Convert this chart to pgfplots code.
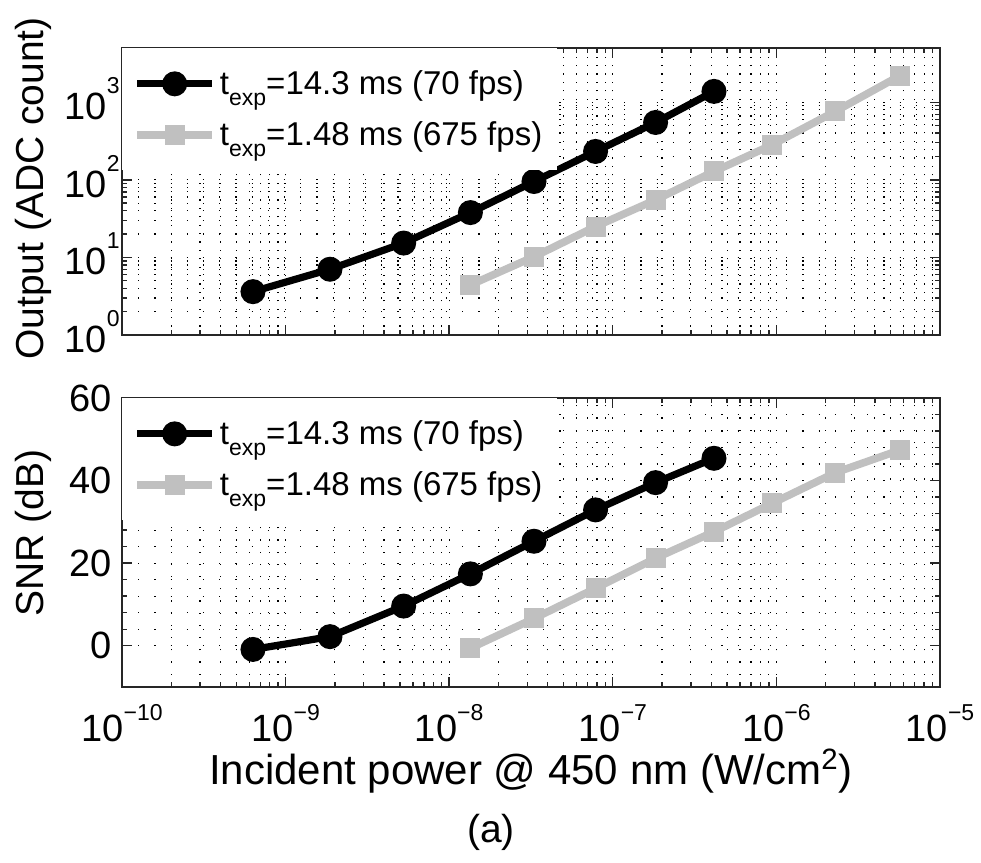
\documentclass[border=0pt]{standalone}
\usepackage{fontspec}
\setmainfont{Liberation Sans}
\usepackage{pgfplots}
\pgfplotsset{compat=1.18}
\usepackage{pgfplotstable}
\definecolor{lgray}{RGB}{192,192,192}
\newcommand\tfs{\fontsize{19}{22}\selectfont}
\newcommand\lfs{\fontsize{19.5}{23}\selectfont}
\newcommand\xfs{\fontsize{21}{24}\selectfont}
\newcommand\gfs{\fontsize{16.5}{19.5}\selectfont}
\newcommand\xe[1]{\raisebox{10pt}{\fontsize{11.5}{12}\selectfont #1}}
\newcommand\ye[1]{\raisebox{13pt}{\fontsize{11.5}{12}\selectfont #1}}
\newcommand\texp{t\raisebox{-5.5pt}{\fontsize{11.5}{12}\selectfont exp}}
\pgfplotstableread{
x        out    snr
6.32e-10 3.62  -0.9
1.868e-9 7.04   2.2
5.27e-9  15.3   9.6
1.348e-8 37.8  17.4
3.30e-8  95.1  25.3
7.85e-8  232   32.9
1.827e-7 548   39.5
4.155e-7 1378  45.4
}\blackdata
\pgfplotstableread{
x        out    snr
1.348e-8 4.42  -0.6
3.30e-8  10.2   6.6
7.85e-8  25.0  13.9
1.827e-7 55.2  21.2
4.155e-7 128   27.6
9.43e-7  283   34.5
2.288e-6 761   41.9
5.69e-6  2198  47.4
}\graydata
\pgfplotsset{
  legend image code/.code={\draw[mark repeat=2,mark phase=2,#1] plot coordinates {(0pt,0pt) (18.75pt,0pt) (37.5pt,0pt)};},
}
\tikzset{
  blk/.style={black, line width=3.6pt, mark=*, mark size=5.6pt, mark options={solid, line width=1.3pt, fill=black}},
  gry/.style={lgray, line width=3.8pt, mark=square*, mark size=4.4pt, mark options={solid, line width=1.2pt, fill=lgray}},
}
\begin{document}
\begin{tikzpicture}
\useasboundingbox (0,0) rectangle (490.5pt,431.5pt);
\begin{axis}[
  scale only axis, width=409pt,
  xmode=log, xmin=1e-10, xmax=1e-5,
  xtick={1e-10,1e-9,1e-8,1e-7,1e-6,1e-5},
  axis line style={line width=0.9pt, black!85},
  tick style={line width=0.7pt, black!85},
  major tick length=5pt, minor tick length=2.5pt,
  tick align=inside,
  grid=both,
  every axis x grid/.style={black, line width=0.6pt, dash pattern=on 0.6pt off 3.6pt},
  every axis y grid/.style={black, line width=0.6pt, dash pattern=on 0.6pt off 7.5pt},
  yticklabel style={font=\tfs, anchor=base east, inner xsep=1pt, yshift=-8.65pt},
  label style={font=\lfs},
  legend style={at={(0,1)}, anchor=north west, draw=none, fill=white, font=\gfs,
    inner xsep=5.5pt, inner ysep=9pt, row sep=8pt},
  legend cell align=left,
  at={(61pt,264pt)}, anchor=south west, height=143.5pt,
  ymode=log, ymin=1, ymax=5000,
  ytick={1,10,100,1000},
  yticklabels={10\ye{0},10\ye{1},10\ye{2},10\ye{3}},
  xticklabels={},
  ylabel={Output (ADC count)},
  ylabel style={at={(axis description cs:-0.108,0.51)}, anchor=center},
]
\addplot[blk] table[x=x, y=out] {\blackdata};
\addlegendentry{\texp=14.3 ms (70 fps)}
\addplot[gry] table[x=x, y=out] {\graydata};
\addlegendentry{\texp=1.48 ms (675 fps)}
\end{axis}
\begin{axis}[
  scale only axis, width=409pt,
  xmode=log, xmin=1e-10, xmax=1e-5,
  xtick={1e-10,1e-9,1e-8,1e-7,1e-6,1e-5},
  axis line style={line width=0.9pt, black!85},
  tick style={line width=0.7pt, black!85},
  major tick length=5pt, minor tick length=2.5pt,
  tick align=inside,
  grid=both,
  every axis x grid/.style={black, line width=0.6pt, dash pattern=on 0.6pt off 5.5pt},
  every axis y grid/.style={black, line width=0.6pt, dash pattern=on 0.6pt off 7.5pt},
  yticklabel style={font=\tfs, anchor=east, inner xsep=5pt},
  xticklabel style={font=\tfs, anchor=base, yshift=-27pt},
  label style={font=\lfs},
  legend style={at={(0,1)}, anchor=north west, draw=none, fill=white, font=\gfs,
    inner xsep=5.5pt, inner ysep=9pt, row sep=8pt},
  legend cell align=left,
  at={(61pt,88pt)}, anchor=south west, height=144.5pt,
  ymin=-10, ymax=60,
  ytick={0,20,40,60}, yticklabels={0,20,40,60},
  minor y tick num=4,
  xticklabels={10\xe{−10},10\xe{−9},10\xe{−8},10\xe{−7},10\xe{−6},10\xe{−5}},
  ylabel={SNR (dB)},
  ylabel style={at={(axis description cs:-0.108,0.533)}, anchor=center},
  xlabel={Incident power @ 450 nm (W/cm\textsuperscript{2})},
  xlabel style={font=\xfs, at={(axis description cs:0.5,-0.292)}, anchor=center},
]
\addplot[blk] table[x=x, y=snr] {\blackdata};
\addlegendentry{\texp=14.3 ms (70 fps)}
\addplot[gry] table[x=x, y=snr] {\graydata};
\addlegendentry{\texp=1.48 ms (675 fps)}
\end{axis}
\node[font=\lfs] at (245.5pt,15.5pt) {(a)};
\end{tikzpicture}
\end{document}
